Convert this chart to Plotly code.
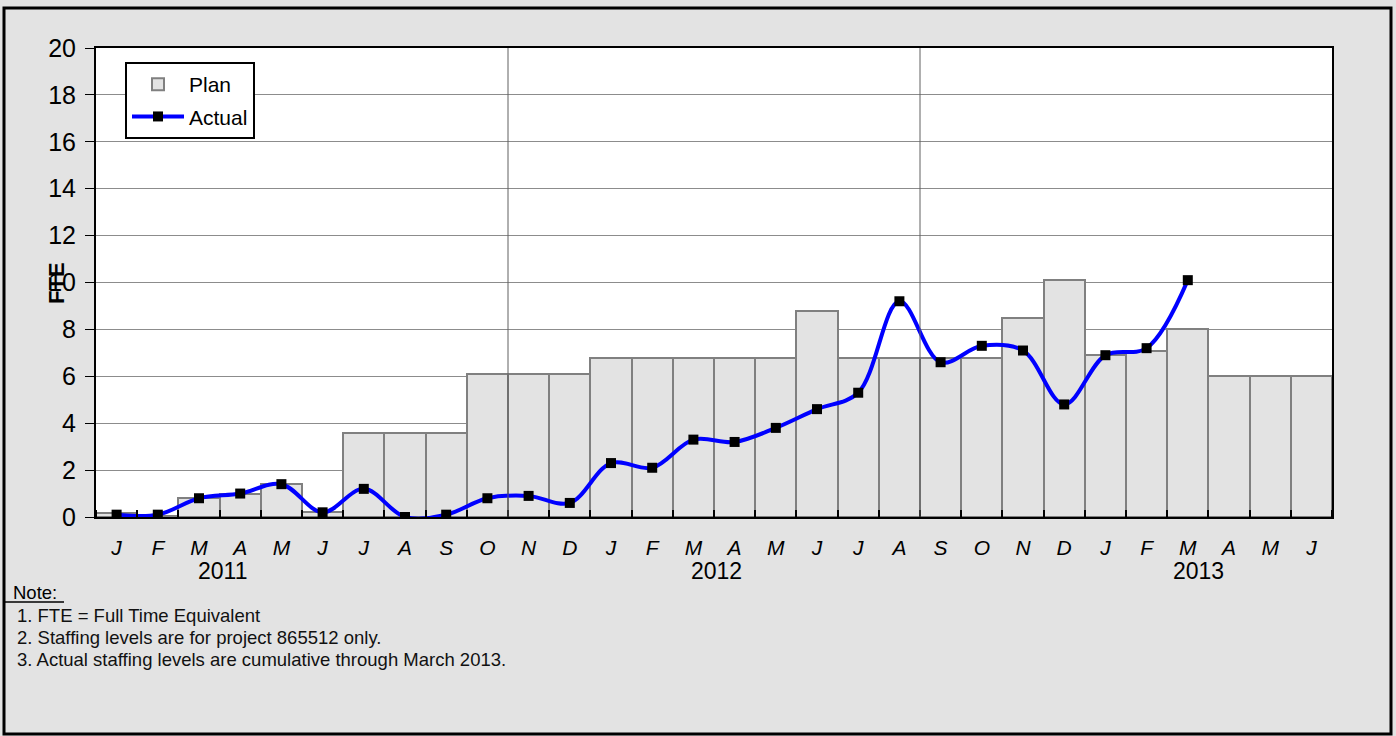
import plotly.graph_objects as go

# ---- data ----
months = ["J", "F", "M", "A", "M", "J", "J", "A", "S", "O", "N", "D",
          "J", "F", "M", "A", "M", "J", "J", "A", "S", "O", "N", "D",
          "J", "F", "M", "A", "M", "J"]
plan = [0.15, 0.05, 0.8, 1.0, 1.4, 0.2, 3.6, 3.6, 3.6, 6.1, 6.1, 6.1,
        6.8, 6.8, 6.8, 6.8, 6.8, 8.8, 6.8, 6.8, 6.8, 6.8, 8.5, 10.1,
        6.9, 7.1, 8.0, 6.0, 6.0, 6.0]
actual = [0.1, 0.1, 0.8, 1.0, 1.4, 0.2, 1.2, 0.0, 0.1, 0.8, 0.9, 0.6,
          2.3, 2.1, 3.3, 3.2, 3.8, 4.6, 5.3, 9.2, 6.6, 7.3, 7.1, 4.8,
          6.9, 7.2, 10.1]
years = ["2011", "2012", "2013"]
year_pos = [2.56, 14.57, 26.25]
notes = ["1. FTE = Full Time Equivalent",
         "2. Staffing levels are for project 865512 only.",
         "3. Actual staffing levels are cumulative through March 2013."]

idx = list(range(len(months)))
FONT = "Arial, Liberation Sans, sans-serif"
BG = "#E3E3E3"

# plot area in pixels
W, H = 1396, 736
L, R, T, B = 96, 1332, 48, 517


def px_x(x):
    return (x - L) / (R - L)


def px_y(y):
    return (B - y) / (B - T)


fig = go.Figure()
fig.add_trace(go.Bar(
    x=idx, y=plan, name="Plan", width=1.0,
    marker=dict(color=BG, line=dict(color="#808080", width=2)),
    legendgroup="a",
))
fig.add_trace(go.Scatter(
    x=idx[:len(actual)], y=actual, name="Actual", mode="lines+markers",
    line=dict(color="#0000FF", width=4, shape="spline", smoothing=1.0),
    marker=dict(symbol="square", color="black", size=10),
    legendgroup="b",
))

shapes = []
# vertical grid lines
for xv in [9.5, 19.5]:
    shapes.append(dict(type="line", xref="x", yref="paper", x0=xv, x1=xv,
                       y0=0, y1=1, line=dict(color="#606060", width=1),
                       layer="above"))
# outer frame
shapes.append(dict(type="rect", xref="paper", yref="paper",
                   x0=px_x(4), x1=px_x(1391), y0=px_y(734), y1=px_y(8),
                   line=dict(color="black", width=3), layer="below"))
# note underline
shapes.append(dict(type="line", xref="paper", yref="paper",
                   x0=px_x(4), x1=px_x(64), y0=px_y(602), y1=px_y(602),
                   line=dict(color="black", width=1.5)))

annotations = []
for yr, xp in zip(years, year_pos):
    annotations.append(dict(text=yr, x=xp, xref="x", y=px_y(571), yref="paper",
                            showarrow=False, font=dict(size=23, color="black", family=FONT),
                            xanchor="center", yanchor="middle"))
annotations.append(dict(text="FTE", x=px_x(56), y=px_y(283), xref="paper", yref="paper",
                        showarrow=False, textangle=-90,
                        font=dict(size=22, color="black", family=FONT, weight="bold"),
                        xanchor="center", yanchor="middle"))
annotations.append(dict(text="Note:", x=px_x(11), y=px_y(592), xref="paper", yref="paper",
                        showarrow=False, font=dict(size=18.5, color="black", family=FONT),
                        xanchor="left", yanchor="middle"))
for i, n in enumerate(notes):
    annotations.append(dict(text=n, x=px_x(15), y=px_y(615 + 22 * i), xref="paper", yref="paper",
                            showarrow=False, font=dict(size=18.5, color="#111111", family=FONT),
                            xanchor="left", yanchor="middle"))

fig.update_layout(
    width=W, height=H,
    margin=dict(l=L, r=W - R, t=T, b=H - B, pad=0),
    paper_bgcolor=BG, plot_bgcolor="white",
    font=dict(family=FONT, color="black"),
    bargap=0,
    showlegend=True,
    legend=dict(x=px_x(125), y=px_y(62), xanchor="left", yanchor="top",
                bgcolor="white", bordercolor="black", borderwidth=2,
                font=dict(size=21, family=FONT, color="black"),
                traceorder="grouped", tracegroupgap=2,
                itemwidth=52),
    xaxis=dict(range=[-0.5, 29.5], tickmode="array", tickvals=idx,
               ticktext=["<i>%s</i>" % m for m in months],
               tickfont=dict(size=21, family=FONT, color="black"),
               ticks="outside", ticklen=11, tickcolor="rgba(0,0,0,0)",
               showgrid=False, zeroline=False,
               showline=True, linecolor="black", linewidth=2, mirror=True,
               minor=dict(tickmode="linear", tick0=-0.5, dtick=1, ticks="inside",
                          ticklen=7, tickwidth=2, tickcolor="black", showgrid=False),
               fixedrange=True),
    yaxis=dict(range=[0, 20], dtick=2, tickfont=dict(size=25, family=FONT, color="black"),
               ticks="outside", ticklen=9, tickwidth=1, tickcolor="black",
               ticklabelstandoff=4,
               showgrid=True, gridcolor="#8C8C8C", gridwidth=1,
               zeroline=False, showline=True, linecolor="black", linewidth=2,
               mirror=True, fixedrange=True),
    shapes=shapes,
    annotations=annotations,
)

fig.write_html("out.html", config={"displayModeBar": False},
               post_script="document.body.style.margin='0';document.body.style.overflow='hidden';")
